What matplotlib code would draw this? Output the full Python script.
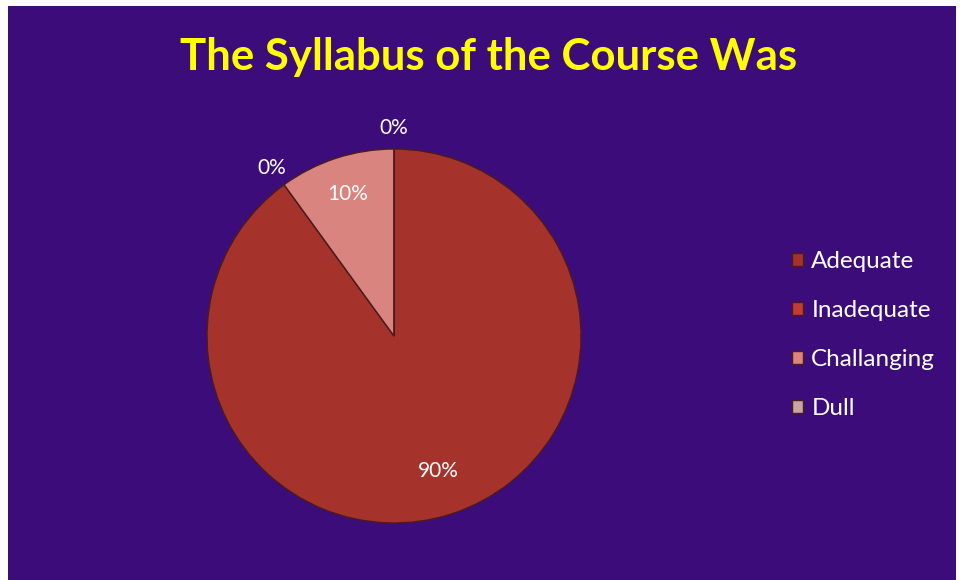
import numpy as np
import matplotlib
matplotlib.use('Agg')
import matplotlib.pyplot as plt

# 데이터
categories = ['Adequate', 'Inadequate', 'Challanging', 'Dull']
values = [90, 0, 10, 0]
colors = ['#a5322b', '#c23c33', '#d9847e', '#c6a5a2']
title = 'The Syllabus of the Course Was'

plt.rcParams['font.family'] = ['Lato', 'DejaVu Sans']

W, H = 960, 580
fig = plt.figure(figsize=(W / 100, H / 100), dpi=100, facecolor='white')

# 보라색 배경
bg = fig.add_axes([8 / W, 0, 948 / W, 574 / H])
bg.set_facecolor('#3c0d7a')
bg.set_xticks([])
bg.set_yticks([])
for s in bg.spines.values():
    s.set_visible(False)

# 파이 차트 (중심 394,336 / 반지름 187px)
cx, cy, r = 394, 336, 187
half = 200
ax = fig.add_axes([(cx - half) / W, (H - cy - half) / H, 2 * half / W, 2 * half / H])
ax.patch.set_visible(False)
wedges, _ = ax.pie(values, colors=colors, startangle=90, counterclock=False,
                   wedgeprops=dict(edgecolor='#4a1c1c', linewidth=1.0))
lim = half / r
ax.set_xlim(-lim, lim)
ax.set_ylim(-lim, lim)
ax.set_aspect('equal')
ax.axis('off')

# 퍼센트 라벨
for w, v in zip(wedges, values):
    ang = np.deg2rad((w.theta1 + w.theta2) / 2)
    d = (0.8 if v < 50 else 0.76) if v > 0 else 1.11
    ax.text(d * np.cos(ang), d * np.sin(ang), f'{v}%', ha='center', va='center',
            color='white', fontsize=15)

fig.text(489 / W, 1 - 57 / H, title, ha='center', va='center', color='#ffff00',
         fontsize=31.5, fontweight='bold')

leg = fig.legend(wedges, categories, loc='center left',
                 bbox_to_anchor=(770 / W, 1 - 335 / H), frameon=False,
                 fontsize=17.5, labelcolor='white', labelspacing=1.15,
                 handlelength=0.45, handleheight=0.45, handletextpad=0.35)

fig.savefig('out.png', dpi=100, facecolor='white')
